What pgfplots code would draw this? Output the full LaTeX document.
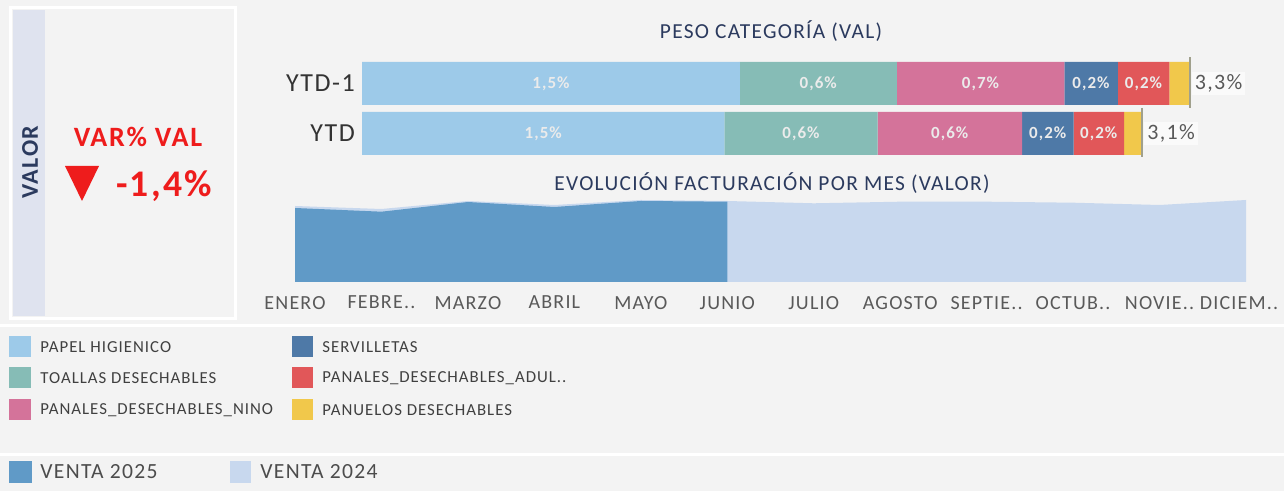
\documentclass[border=0pt]{standalone}
\usepackage{fontspec}
\setmainfont[LetterSpace=6]{Carlito}
\usepackage{pgfplots}
\pgfplotsset{compat=1.18}

\definecolor{bg}{HTML}{F3F3F3}
\definecolor{strip}{HTML}{DFE3EF}
\definecolor{navy}{HTML}{2B3A5E}
\definecolor{kpired}{HTML}{EE1C1C}
\definecolor{papel}{HTML}{9DCAE9}
\definecolor{toallas}{HTML}{86BCB6}
\definecolor{nino}{HTML}{D4739A}
\definecolor{servi}{HTML}{4E79A7}
\definecolor{adul}{HTML}{E15759}
\definecolor{panu}{HTML}{F1C84B}
\definecolor{vta25}{HTML}{609AC7}
\definecolor{vta24}{HTML}{C8D8EE}
\definecolor{lblgray}{HTML}{595959}
\definecolor{refgray}{HTML}{A0A08C}

\tikzset{
  seglbl/.style={text=white!92!black, font=\fontsize{8.5}{9}\selectfont\bfseries},
  totlbl/.style={anchor=west, fill=white!60!bg, inner sep=1.5pt, text=lblgray, font=\fontsize{11}{12}\selectfont},
  leg/.style={anchor=west, inner sep=0pt, text=black!75, font=\fontsize{8.4}{9}\selectfont},
  legbig/.style={anchor=west, inner sep=0pt, text=black!70, font=\fontsize{10.8}{11}\selectfont},
}

\begin{document}
\begin{tikzpicture}
\useasboundingbox (0,0) rectangle (642pt,-245.5pt);
% 1 px of the reference = 0.5pt, y downwards
\begin{scope}[x=0.5pt,y=-0.5pt]
\fill[bg] (0,0) rectangle (1284,491);
\fill[white] (9,6) rectangle (237,320);
\fill[bg] (12,9) rectangle (234,317);
\fill[strip] (13,10) rectangle (45,316);
\fill[white] (0,324) rectangle (1284,327);
\fill[white] (0,453) rectangle (1284,456);

% KPI
\node[rotate=90, text=navy, font=\fontsize{12}{13}\selectfont\bfseries] at (30,162) {VALOR};
\node[text=kpired, font=\fontsize{14}{15}\selectfont\bfseries] at (138,137) {VAR\% VAL};
\fill[kpired] (65,166) -- (99,166) -- (82,201) -- cycle;
\node[text=kpired, font=\fontsize{18.8}{19}\selectfont\bfseries] at (164,186) {-1,4\%};

% titles
\node[text=navy, font=\fontsize{10.7}{11}\selectfont] at (771,31) {PESO CATEGORÍA (VAL)};
\node[text=navy, font=\fontsize{10.7}{11}\selectfont] at (772,183) {EVOLUCIÓN FACTURACIÓN POR MES (VALOR)};

% legend: categories
\fill[papel] (9,336) rectangle (31,357);    \node[leg] at (40,347) {PAPEL HIGIENICO};
\fill[toallas] (9,367) rectangle (31,388);  \node[leg] at (40,378) {TOALLAS DESECHABLES};
\fill[nino] (9,399) rectangle (31,420);     \node[leg] at (40,410) {PANALES\_DESECHABLES\_NINO};
\fill[servi] (292,336) rectangle (313,357); \node[leg] at (322,347) {SERVILLETAS};
\fill[adul] (292,367) rectangle (313,388);  \node[leg] at (322,378) {PANALES\_DESECHABLES\_ADUL..};
\fill[panu] (292,399) rectangle (313,420);  \node[leg] at (322,410) {PANUELOS DESECHABLES};

% legend: years
\fill[vta25] (9,461) rectangle (32,483);    \node[legbig] at (40,472) {VENTA 2025};
\fill[vta24] (230,461) rectangle (251,483); \node[legbig] at (260,472) {VENTA 2024};
\end{scope}

% stacked bars
\begin{axis}[
    at={(181pt,-79.25pt)}, anchor=south west,
    scale only axis, width=412.5pt, height=50pt,
    xbar stacked, bar width=21.5pt,
    xmin=0, xmax=3.3, ymin=-0.5, ymax=1.5,
    ytick={0,1}, yticklabels={YTD,YTD-1},
    xtick=\empty,
    axis line style={draw=none},
    major tick length=0pt,
    yticklabel style={font=\fontsize{13}{14}\selectfont, text=black!80},
    clip=false,
    after end axis/.code={
        \node[seglbl] at (axis cs:0.756,1) {1,5\%};
        \node[seglbl] at (axis cs:1.825,1) {0,6\%};
        \node[seglbl] at (axis cs:2.474,1) {0,7\%};
        \node[seglbl] at (axis cs:2.916,1) {0,2\%};
        \node[seglbl] at (axis cs:3.126,1) {0,2\%};
        \node[seglbl] at (axis cs:0.725,0) {1,5\%};
        \node[seglbl] at (axis cs:1.756,0) {0,6\%};
        \node[seglbl] at (axis cs:2.351,0) {0,6\%};
        \node[seglbl] at (axis cs:2.743,0) {0,2\%};
        \node[seglbl] at (axis cs:2.947,0) {0,2\%};
        \draw[refgray, line width=1pt] (axis cs:3.311,1.52) -- (axis cs:3.311,0.51);
        \draw[refgray, line width=1pt] (axis cs:3.120,0.51) -- (axis cs:3.120,-0.47);
        \node[totlbl] at (axis cs:3.318,1) {3,3\%};
        \node[totlbl] at (axis cs:3.128,0) {3,1\%};
    },
]
\addplot[fill=papel, draw=none] coordinates {(1.449,0) (1.511,1)};
\addplot[fill=toallas, draw=none] coordinates {(0.613,0) (0.628,1)};
\addplot[fill=nino, draw=none] coordinates {(0.578,0) (0.670,1)};
\addplot[fill=servi, draw=none] coordinates {(0.206,0) (0.214,1)};
\addplot[fill=adul, draw=none] coordinates {(0.202,0) (0.206,1)};
\addplot[fill=panu, draw=none] coordinates {(0.072,0) (0.082,1)};
\end{axis}

% monthly area
\begin{axis}[
    at={(147.5pt,-141pt)}, anchor=south west,
    scale only axis, width=475.5pt, height=45pt,
    xmin=0, xmax=11, ymin=0, ymax=90,
    xtick={0,...,11},
    xticklabels={ENERO,FEBRE..,MARZO,ABRIL,MAYO,JUNIO,JULIO,AGOSTO,SEPTIE..,OCTUB..,NOVIE..,\hspace*{-7pt}DICIEM..},
    ytick=\empty,
    axis line style={draw=none},
    major tick length=0pt,
    xticklabel style={font=\fontsize{10}{11}\selectfont, text=lblgray, yshift=-3.5pt},
    clip=false,
]
\addplot[fill=vta24, draw=none] coordinates {
    (0,76) (1,73) (2,81) (3,77) (4,82) (5,81)
    (6,78.7) (7,80.3) (8,80.3) (9,79.3) (10,77) (11,82)} \closedcycle;
\addplot[fill=vta25, draw=none] coordinates {
    (0,74) (1,70.3) (2,80) (3,75) (4,81) (5,80.3)} \closedcycle;
\end{axis}
\end{tikzpicture}
\end{document}
